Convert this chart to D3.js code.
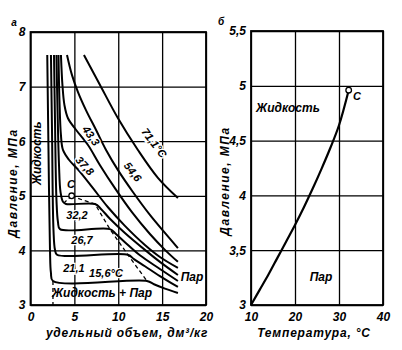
<!DOCTYPE html>
<html>
<head>
<meta charset="utf-8">
<script src="https://cdn.jsdelivr.net/npm/d3@7"></script>
<style>
  html, body { margin: 0; padding: 0; background: #fff; }
  svg { display: block; font-family: "Liberation Sans", Arial, sans-serif; font-style: italic; font-weight: bold; }
  svg text { font-style: italic; font-weight: bold; }
</style>
</head>
<body>
<svg id="chart" width="402" height="350"></svg>
<script>
// ---- Panel а: isotherms of ethane, specific volume (dm³/kg) vs pressure (MPa)
const iso711 = [[6.09,7.58],[7.92,7.03],[9.97,6.42],[12.24,5.84],[14.52,5.33],[16.8,4.96]];
const iso546 = [[4.16,7.58],[4.73,7.21],[5.41,6.90],[6.32,6.57],[7.46,6.21],[8.61,5.84],[9.97,5.47],[11.67,5.07],[13.61,4.65],[15.32,4.32],[16.8,4.04]];
const iso433 = [[3.47,7.58],[3.64,7.03],[3.87,6.66],[4.27,6.42],[5.18,6.21],[6.55,5.93],[7.92,5.56],[9.62,5.14],[11.56,4.70],[13.61,4.30],[15.32,4.01],[16.8,3.79]];
const iso378 = [[3.19,7.58],[3.30,6.75],[3.47,6.11],[3.70,5.84],[4.38,5.66],[5.64,5.44],[7.12,5.14],[8.83,4.79],[10.76,4.45],[13.04,4.10],[14.75,3.88],[16.8,3.68]];
const iso322 = [[2.96,7.58],[3.08,6.57],[3.25,5.56],[3.42,5.07],[3.70,4.89],[4.04,4.85],[7.35,4.85],[8.03,4.76],[9.05,4.58],[10.76,4.32],[13.04,4.01],[14.75,3.79],[16.8,3.55]];
const iso267 = [[2.68,7.58],[2.79,6.39],[2.96,4.92],[3.13,4.52],[3.36,4.39],[9.05,4.39],[9.74,4.30],[10.76,4.15],[12.47,3.91],[14.75,3.66],[16.8,3.44]];
const iso211 = [[2.33,7.58],[2.45,6.21],[2.62,4.37],[2.79,4.01],[3.02,3.92],[11.10,3.92],[11.79,3.84],[13.04,3.71],[14.75,3.53],[16.8,3.33]];
const iso156 = [[1.91,7.58],[2.05,5.84],[2.22,4.01],[2.33,3.59],[2.56,3.44],[13.27,3.44],[14.07,3.38],[15.32,3.30],[16.8,3.22]];
const isotherms = [iso711, iso546, iso433, iso378, iso322, iso267, iso211, iso156];
const isoNames = ["71,1°C", "54,6", "43,3", "37,8", "32,2", "26,7", "21,1", "15,6°C"];

// saturation boundary (dashed) and the critical point
const critA = [4.69, 5.0];
const domeVapor = [[4.69,5.0],[5.98,4.92],[7.35,4.85],[9.05,4.39],[11.10,3.92],[13.27,3.44]];
const domeLiquid = [[4.69,5.0],[3.82,4.87]];
const domeFoot = [[2.56,3.44],[2.56,3.0]];

const volTicks = [0, 5, 10, 15, 20];
const presTicksA = [3, 4, 5, 6, 7, 8];

// ---- Panel б: vapour-pressure curve, temperature (°C) vs pressure (MPa)
const temps = [10, 12, 14, 16, 18, 20, 22, 24, 26, 28, 30, 32.2];
const pressures = [3.0, 3.14, 3.28, 3.43, 3.58, 3.73, 3.89, 4.06, 4.24, 4.43, 4.64, 4.96];
const tempTicks = [10, 20, 30, 40];
const presTicksB = [3, 3.5, 4, 4.5, 5, 5.5];

const svg = d3.select("#chart");
const comma = d => String(d).replace(".", ",");

const xA = d3.scaleLinear().domain([0, 20]).range([30.5, 206]);
const yA = d3.scaleLinear().domain([3, 8]).range([305, 32]);
const xB = d3.scaleLinear().domain([10, 40]).range([251, 383]);
const yB = d3.scaleLinear().domain([3, 5.5]).range([305, 31]);

function panel(x, y, xt, yt) {
  const g = svg.append("g");
  const [x0, x1] = x.range(), [y0, y1] = y.range();
  const gx = g.append("g").attr("transform", `translate(0,${y0})`)
    .call(d3.axisBottom(x).tickValues(xt).tickSize(-(y0 - y1)).tickPadding(7).tickFormat(comma));
  const gy = g.append("g").attr("transform", `translate(${x0},0)`)
    .call(d3.axisLeft(y).tickValues(yt).tickSize(-(x1 - x0)).tickPadding(5).tickFormat(comma));
  [gx, gy].forEach(a => {
    a.select(".domain").remove();
    a.selectAll("line").attr("stroke", "#000").attr("stroke-width", 1.3);
    a.selectAll("text").attr("fill", "#000").attr("font-size", 12)
      .attr("font-family", "Liberation Sans, Arial, sans-serif");
  });
  g.append("rect").attr("x", x0).attr("y", y1).attr("width", x1 - x0).attr("height", y0 - y1)
    .attr("fill", "none").attr("stroke", "#000").attr("stroke-width", 1.8);
  return g;
}

const gA = panel(xA, yA, volTicks, presTicksA);
const gB = panel(xB, yB, tempTicks, presTicksB);

const lineA = d3.line().x(d => xA(d[0])).y(d => yA(d[1])).curve(d3.curveCatmullRom.alpha(0.5));
const lineAstraight = d3.line().x(d => xA(d[0])).y(d => yA(d[1]));

gA.selectAll("path.iso").data(isotherms).join("path").attr("class", "iso")
  .attr("d", lineA).attr("fill", "none").attr("stroke", "#000").attr("stroke-width", 2)
  .attr("stroke-linejoin", "round");

[domeVapor, domeLiquid, domeFoot].forEach(d => {
  gA.append("path").attr("d", lineAstraight(d)).attr("fill", "none")
    .attr("stroke", "#000").attr("stroke-width", 1.3).attr("stroke-dasharray", "4,3");
});

gA.append("circle").attr("cx", xA(critA[0])).attr("cy", yA(critA[1])).attr("r", 2.8)
  .attr("fill", "#fff").attr("stroke", "#000").attr("stroke-width", 1.3);

// isotherm labels, anchored in data coordinates
const isoLabelAt = [[14.1,5.97,53],[11.67,5.44,52],[6.9,6.1,55],[6.21,5.55,48],[5.30,4.65,0],[5.87,4.19,0],[4.95,3.68,0],[8.6,3.59,0]];
isoNames.forEach((t, i) => {
  const [v, p, r] = isoLabelAt[i];
  gA.append("text").attr("transform", `translate(${xA(v)},${yA(p)}) rotate(${r})`)
    .attr("text-anchor", "middle").attr("dominant-baseline", "central")
    .attr("font-size", 11).attr("fill", "#000")
    .attr("stroke", "#fff").attr("stroke-width", 2.5).attr("paint-order", "stroke")
    .text(t);
});

function note(g, x, y, t, size, rot) {
  return g.append("text").attr("transform", `translate(${x},${y}) rotate(${rot || 0})`)
    .attr("text-anchor", "middle").attr("dominant-baseline", "central")
    .attr("font-size", size).attr("fill", "#000").text(t);
}

note(gA, xA(4.61), yA(5.22), "С", 11);
note(gA, xA(8.15), yA(3.22), "Жидкость + Пар", 12);
note(gA, xA(18.4), yA(3.51), "Пар", 12);
note(gA, xA(0.74), yA(5.78), "Жидкость", 12, -90);

// panel б curve and critical point
const lineB = d3.line().x((d, i) => xB(temps[i])).y(d => yB(d)).curve(d3.curveCatmullRom.alpha(0.5));
gB.append("path").attr("d", lineB(pressures)).attr("fill", "none").attr("stroke", "#000").attr("stroke-width", 2.2);
gB.append("circle").attr("cx", xB(temps[temps.length - 1])).attr("cy", yB(pressures[pressures.length - 1]))
  .attr("r", 2.8).attr("fill", "#fff").attr("stroke", "#000").attr("stroke-width", 1.3);
note(gB, xB(34.1), yB(4.91), "С", 11);
note(gB, xB(18.4), yB(4.80), "Жидкость", 12);
note(gB, xB(25.9), yB(3.26), "Пар", 12);

// axis titles and panel letters
svg.append("text").attr("x", 127).attr("y", 337).attr("text-anchor", "middle")
  .attr("font-size", 12).attr("letter-spacing", 0.8).text("удельный объем, дм³/кг");
svg.append("text").attr("x", 314).attr("y", 337).attr("text-anchor", "middle")
  .attr("font-size", 12).attr("letter-spacing", 0.8).text("Температура, °С");
note(svg, 13, 183, "Давление, МПа", 12, -90).attr("letter-spacing", 1.5);
note(svg, 225, 181, "Давление, МПа", 12, -90).attr("letter-spacing", 1.5);
note(svg, 14, 22, "а", 10);
note(svg, 221, 21, "б", 10);
</script>
</body>
</html>
